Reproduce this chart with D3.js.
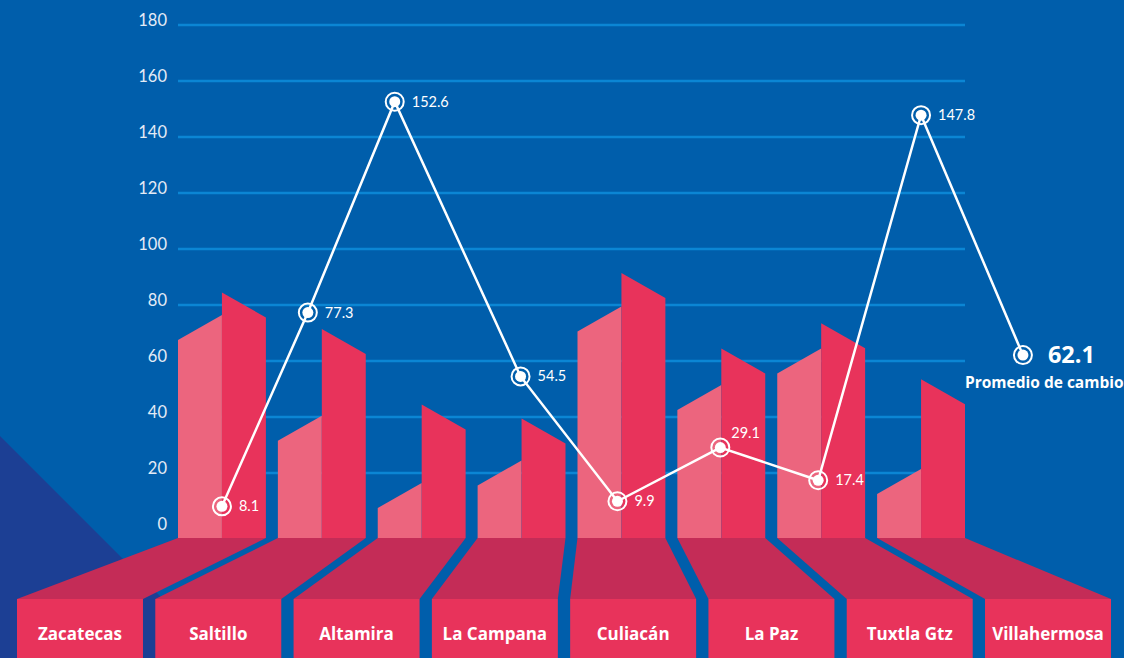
<!DOCTYPE html>
<html>
<head>
<meta charset="utf-8">
<script src="https://cdn.jsdelivr.net/npm/d3@7/dist/d3.min.js"></script>
<style>
  html, body { margin: 0; padding: 0; background: #005eab; overflow: hidden; }
  svg { display: block; font-family: Lato, "Open Sans", sans-serif; }
</style>
</head>
<body>
<div id="chart"></div>
<script>
// Cities shown on the floor
const cities = ['Zacatecas', 'Saltillo', 'Altamira', 'La Campana', 'Culiacán', 'La Paz', 'Tuxtla Gtz', 'Villahermosa'];

// Decorative folded bars (height at the middle of each face)
const lightValues = [72, 36, 12, 20, 75, 47, 60, 17];
const darkValues = [80, 67, 40, 35, 87, 60, 69, 49];

// Line series: value and slot position (in city units) as drawn in the source
const lineValues = [8.1, 77.3, 152.6, 54.5, 9.9, 29.1, 17.4, 147.8];
const lineSlots = [0, 0.86, 1.73, 2.99, 3.96, 4.99, 5.97, 7.0];
const averageValue = 62.1;
const averageSlot = 8.02;
const averageLabel = 'Promedio de cambio';

const yTicks = [0, 20, 40, 60, 80, 100, 120, 140, 160, 180];

const W = 1124, H = 658;
const colors = {
    bg: '#005eab',
    grid: '#0b86d4',
    light: '#ec657e',
    dark: '#e8335b',
    floor: '#c42c57',
    box: '#e8335b',
    shadow: '#1c3f94',
    text: '#ffffff'
};
const boldFont = '"Open Sans", sans-serif';

const svg = d3.select('#chart').append('svg')
    .attr('width', W)
    .attr('height', H);

svg.append('rect').attr('width', W).attr('height', H).attr('fill', colors.bg);

// dark triangle at the bottom left
svg.append('path')
    .attr('d', `M0,436 L222,${H} L0,${H} Z`)
    .attr('fill', colors.shadow);

const x = d3.scaleBand().domain(cities).range([178, 965]).paddingInner(0.12).paddingOuter(0);
const xBox = d3.scaleBand().domain(cities).range([17, 1111]).paddingInner(0.089).paddingOuter(0);
const y = d3.scaleLinear().domain([0, 180]).range([529, 25]);

const slotX = d3.scaleLinear()
    .domain([0, 1])
    .range([x(cities[0]) + x.bandwidth() / 2, x(cities[1]) + x.bandwidth() / 2]);

const floorTop = y(0) + 9;
const boxTop = 599;
const slant = 12.5;

// gridlines + tick labels
const grid = svg.append('g');
grid.selectAll('line')
    .data(yTicks.filter(d => d > 0))
    .enter().append('line')
    .attr('x1', 178).attr('x2', 965)
    .attr('y1', d => y(d)).attr('y2', d => y(d))
    .attr('stroke', colors.grid)
    .attr('stroke-width', 2.5);

grid.selectAll('text')
    .data(yTicks)
    .enter().append('text')
    .attr('x', 167)
    .attr('y', d => y(d) + 0.5)
    .attr('text-anchor', 'end')
    .attr('fill', '#e4ebf6')
    .attr('font-size', '16.5px')
    .text(d => d);

// floor trapezoids
svg.append('g').selectAll('path')
    .data(cities)
    .enter().append('path')
    .attr('d', c => {
        const a = x(c), b = x(c) + x.bandwidth();
        const p = xBox(c), q = xBox(c) + xBox.bandwidth();
        return `M${a},${floorTop} L${b},${floorTop} L${q},${boxTop} L${p},${boxTop} Z`;
    })
    .attr('fill', colors.floor);

// label boxes
const boxes = svg.append('g').selectAll('g')
    .data(cities)
    .enter().append('g');

boxes.append('rect')
    .attr('x', c => xBox(c))
    .attr('y', boxTop)
    .attr('width', xBox.bandwidth())
    .attr('height', H - boxTop)
    .attr('fill', colors.box);

boxes.append('text')
    .attr('x', c => xBox(c) + xBox.bandwidth() / 2)
    .attr('y', 640)
    .attr('text-anchor', 'middle')
    .attr('fill', colors.text)
    .style('font-family', boldFont)
    .attr('font-size', '17px')
    .attr('font-weight', 'bold')
    .text(c => c);

// folded bars
const bars = svg.append('g').selectAll('g')
    .data(cities)
    .enter().append('g');

bars.append('path')
    .attr('d', (c, i) => {
        const a = x(c), m = x(c) + x.bandwidth() / 2;
        const t = y(lightValues[i]);
        return `M${a},${floorTop} L${a},${t + slant} L${m},${t - slant} L${m},${floorTop} Z`;
    })
    .attr('fill', colors.light);

bars.append('path')
    .attr('d', (c, i) => {
        const m = x(c) + x.bandwidth() / 2, b = x(c) + x.bandwidth();
        const t = y(darkValues[i]);
        return `M${m},${floorTop} L${m},${t - slant} L${b},${t + slant} L${b},${floorTop} Z`;
    })
    .attr('fill', colors.dark);

// line series
const points = lineValues.map((v, i) => ({ v, x: slotX(lineSlots[i]), y: y(v) }));
const avgPoint = { v: averageValue, x: slotX(averageSlot), y: y(averageValue) };
const allPoints = points.concat([avgPoint]);

svg.append('path')
    .datum(allPoints)
    .attr('d', d3.line().x(d => d.x).y(d => d.y))
    .attr('fill', 'none')
    .attr('stroke', '#ffffff')
    .attr('stroke-width', 2.5);

const markers = svg.append('g').selectAll('g')
    .data(allPoints)
    .enter().append('g')
    .attr('transform', d => `translate(${d.x},${d.y})`);

markers.append('circle')
    .attr('r', 9)
    .attr('fill', 'none')
    .attr('stroke', '#ffffff')
    .attr('stroke-width', 2);

markers.append('circle')
    .attr('r', 5.5)
    .attr('fill', '#ffffff');

// value labels (29.1 sits above its marker)
svg.append('g').selectAll('text')
    .data(points)
    .enter().append('text')
    .attr('x', d => d.x + (d.v === 29.1 ? 11 : 17))
    .attr('y', d => d.y + (d.v === 29.1 ? -15 : 0))
    .attr('dy', '0.35em')
    .attr('fill', '#ffffff')
    .attr('font-size', '14.5px')
    .text(d => d.v.toFixed(1));

svg.append('text')
    .attr('x', avgPoint.x + 25)
    .attr('y', avgPoint.y)
    .attr('dy', '0.35em')
    .attr('fill', '#ffffff')
    .style('font-family', boldFont)
    .attr('font-size', '23.5px')
    .attr('font-weight', 'bold')
    .text(averageValue.toFixed(1));

svg.append('text')
    .attr('x', 965)
    .attr('y', 383)
    .attr('dy', '0.35em')
    .attr('fill', '#ffffff')
    .style('font-family', boldFont)
    .attr('font-size', '15.5px')
    .attr('font-weight', 'bold')
    .text(averageLabel);
</script>
</body>
</html>
